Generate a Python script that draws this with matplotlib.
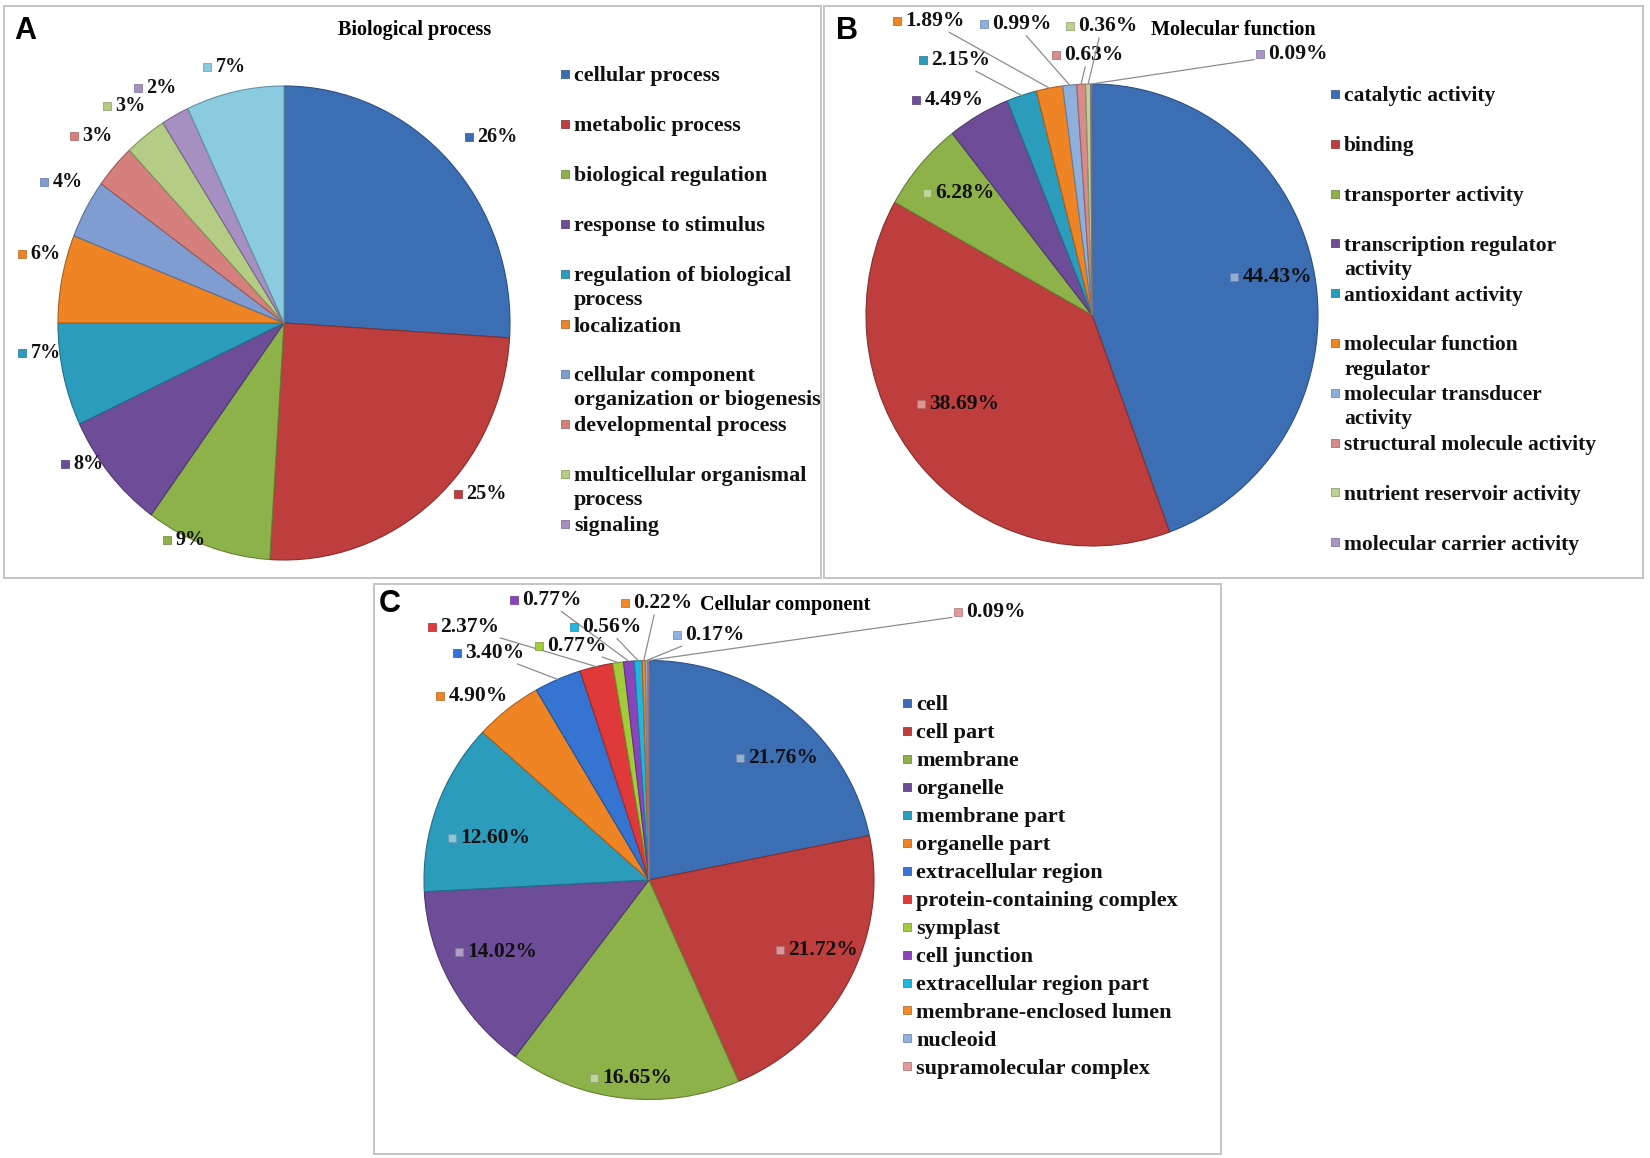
import numpy as np
import matplotlib
matplotlib.use("Agg")
import matplotlib.pyplot as plt
from matplotlib.colors import to_rgb
from matplotlib.patches import Rectangle
from matplotlib.offsetbox import AnnotationBbox, HPacker, TextArea, DrawingArea

W, H = 1650, 1158
SERIF = ["Liberation Serif", "DejaVu Serif"]

# ---- A: biological process (last 7% slice has no legend entry) ----
bp_names = ["cellular process", "metabolic process", "biological regulation",
            "response to stimulus", "regulation of biological\nprocess", "localization",
            "cellular component\norganization or biogenesis", "developmental process",
            "multicellular organismal\nprocess", "signaling"]
bp_values = [26, 25, 9, 8, 7, 6, 4, 3, 3, 2, 7]
bp_colors = ["#3c6eb4", "#bd3e3c", "#8db24a", "#6e4d98", "#2c9cbc", "#ee8424",
             "#7f9dd0", "#d6807e", "#b5cc84", "#a590c1", "#8bcbdf"]

# ---- B: molecular function ----
mf_names = ["catalytic activity", "binding", "transporter activity",
            "transcription regulator\nactivity", "antioxidant activity",
            "molecular function\nregulator", "molecular transducer\nactivity",
            "structural molecule activity", "nutrient reservoir activity",
            "molecular carrier activity"]
mf_values = [44.43, 38.69, 6.28, 4.49, 2.15, 1.89, 0.99, 0.63, 0.36, 0.09]
mf_colors = ["#3c6eb4", "#bd3e3c", "#8db24a", "#6e4d98", "#2c9cbc", "#ee8424",
             "#8fb0dc", "#d98a8a", "#bcd28e", "#a996c6"]

# ---- C: cellular component ----
cc_names = ["cell", "cell part", "membrane", "organelle", "membrane part", "organelle part",
            "extracellular region", "protein-containing complex", "symplast", "cell junction",
            "extracellular region part", "membrane-enclosed lumen", "nucleoid",
            "supramolecular complex"]
cc_values = [21.76, 21.72, 16.65, 14.02, 12.60, 4.90, 3.40, 2.37, 0.77, 0.77, 0.56, 0.22,
             0.17, 0.09]
cc_colors = ["#3c6eb4", "#bd3e3c", "#8db24a", "#6e4d98", "#2c9cbc", "#ee8424",
             "#3574d0", "#e0393a", "#a2cc3a", "#8a45bd", "#22b5de", "#f08a2a",
             "#90b2e0", "#e59a9a"]

# ---- layout: data-label anchor (left edge of marker, middle) in figure pixels ----
bp_lab_xy = [(465, 137), (454, 494), (163, 540), (61, 464), (18, 353), (18, 254),
             (40, 182), (70, 136), (103, 106), (134, 88), (203, 67)]
mf_lab_xy = [(1230, 277), (917, 404), (923, 193), (912, 100), (919, 60), (893, 21),
             (980, 24), (1052, 55), (1066, 26), (1256, 54)]
mf_inside = [0, 1, 2]
mf_leader = [4, 5, 6, 7, 8, 9]
cc_lab_xy = [(736, 758), (776, 950), (590, 1078), (455, 952), (448, 838), (436, 696),
             (453, 653), (428, 627), (535, 646), (510, 600), (570, 627), (621, 603),
             (673, 635), (954, 612)]
cc_inside = [0, 1, 2, 3, 4]
cc_leader = [6, 7, 8, 9, 10, 11, 12, 13]


def shade(c, f):
    r, g, b = to_rgb(c)
    return (r * f, g * f, b * f)


def tint(c, f):
    r, g, b = to_rgb(c)
    return (r + (1 - r) * f, g + (1 - g) * f, b + (1 - b) * f)


def label_box(txt, color, fs):
    da = DrawingArea(6, 6, 0, 0)
    da.add_artist(Rectangle((0, 0), 6, 6, fc=color, ec=shade(color, 0.75), lw=0.5))
    ta = TextArea(txt, textprops=dict(fontsize=fs, fontweight="bold", family=SERIF,
                                      color="#111111"))
    return HPacker(children=[da, ta], align="center", pad=0, sep=3)


fig = plt.figure(figsize=(W / 100, H / 100), dpi=100)
ov = fig.add_axes([0, 0, 1, 1])
ov.set_xlim(0, W); ov.set_ylim(H, 0); ov.axis("off")


def pie_panel(cx, cy, rx, ry, values, colors, fmt, fs, lab_xy, inside=(), leader=()):
    ax = fig.add_axes([(cx - rx) / W, 1 - (cy + ry) / H, 2 * rx / W, 2 * ry / H])
    wedges, _ = ax.pie(values, colors=colors, startangle=90, counterclock=False,
                       wedgeprops=dict(linewidth=0.8))
    for w, c in zip(wedges, colors):
        w.set_edgecolor(shade(c, 0.72))
    ax.set_xlim(-1, 1); ax.set_ylim(-1, 1); ax.set_aspect("auto"); ax.axis("off")
    for i, (w, v) in enumerate(zip(wedges, values)):
        mid = np.deg2rad((w.theta1 + w.theta2) / 2)
        mc = tint(colors[i], 0.45) if i in inside else colors[i]
        box = label_box(fmt.format(v), mc, fs)
        px, py = lab_xy[i]
        pos = ((px - cx) / rx, (cy - py) / ry)
        kw = dict(frameon=False, pad=0, box_alignment=(0, 0.5), annotation_clip=False)
        if i in leader:
            ab = AnnotationBbox(box, (np.cos(mid), np.sin(mid)), xybox=pos,
                                boxcoords="data",
                                arrowprops=dict(arrowstyle="-", color="#8c8c8c", lw=0.9,
                                                shrinkA=1, shrinkB=0), **kw)
        else:
            ab = AnnotationBbox(box, pos, **kw)
        ax.add_artist(ab)
        ab.set_clip_on(False)
    return ax


def legend(names, colors, mx, y0, dy, fs, step=24):
    for i, (n, c) in enumerate(zip(names, colors)):
        y = y0 + i * dy
        ov.add_patch(Rectangle((mx - 4, y - 4), 8, 8, fc=c, ec=shade(c, 0.7), lw=0.5))
        for k, line in enumerate(n.split("\n")):
            ov.text(mx + 9, y + k * step, line, ha="left", va="center_baseline",
                    fontsize=fs, fontweight="bold", family=SERIF, color="#111111")


# panel frames
for x0, y0, x1, y1 in [(4, 6, 821, 578), (824, 6, 1643, 578), (374, 584, 1221, 1154)]:
    ov.add_patch(Rectangle((x0, y0), x1 - x0, y1 - y0, fill=False, ec="#c4c4c4", lw=1.4))

for letter, (lx, ly) in zip("ABC", [(25, 31), (847, 31), (390, 604)]):
    ov.text(lx, ly, letter, ha="center", va="center", fontsize=22, fontweight="bold",
            family=["Liberation Sans", "DejaVu Sans"])

ov.text(415, 30, "Biological process", ha="center", va="center", fontsize=14.5,
        fontweight="bold", family=SERIF)
ov.text(1233, 30, "Molecular function", ha="center", va="center", fontsize=14.5,
        fontweight="bold", family=SERIF)
ov.text(785, 605, "Cellular component", ha="center", va="center", fontsize=14.5,
        fontweight="bold", family=SERIF)

# A
pie_panel(284, 323, 226, 237, bp_values, bp_colors, "{:.0f}%", 14.5, bp_lab_xy)
legend(bp_names, bp_colors, 565, 74, 50, 15.8)

# B
pie_panel(1092, 315, 226, 231, mf_values, mf_colors, "{:.2f}%", 15.5, mf_lab_xy,
          mf_inside, mf_leader)
legend(mf_names, mf_colors, 1335, 94, 49.8, 15.5)

# C
pie_panel(649, 880, 225, 219.5, cc_values, cc_colors, "{:.2f}%", 15.5, cc_lab_xy,
          cc_inside, cc_leader)
legend(cc_names, cc_colors, 907, 703, 27.95, 16)

fig.savefig("out.png", dpi=100, facecolor="white")
